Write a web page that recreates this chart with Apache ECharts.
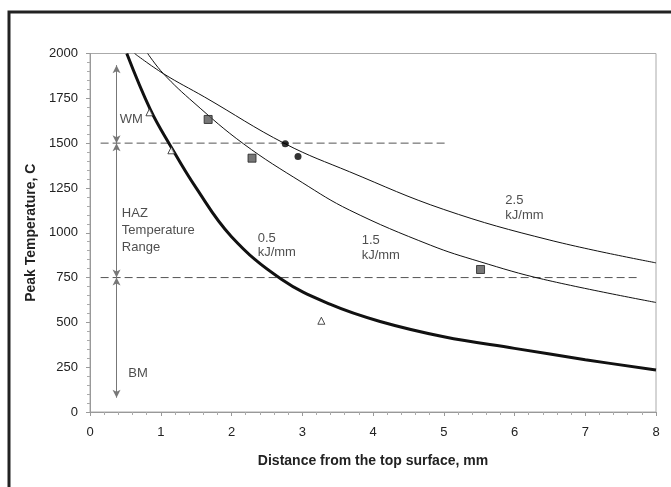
<!DOCTYPE html>
<html>
<head>
<meta charset="utf-8">
<script src="https://cdn.jsdelivr.net/npm/echarts@6/dist/echarts.min.js"></script>
<style>
html, body { margin: 0; padding: 0; background: #fff; }
#main { width: 671px; height: 487px; }
</style>
</head>
<body>
<div id="main"></div>
<script>
// curves: [distance mm, peak temperature C]
var curve05 = [[0.52,2000],[0.85,1690],[1.13,1490],[1.5,1250],[2.0,978],[2.7,742],[3.4,600],[4.1,505],[5.0,420],[6.0,355],[7.0,292],[8.0,234]];
var curve15 = [[0.815,2000],[1.036,1888],[1.47,1725],[2.17,1496],[3.0,1280],[3.67,1126],[4.81,931],[5.5,840],[6.41,740],[8.0,611]];
var curve25 = [[0.63,2000],[1.036,1888],[1.62,1757],[2.76,1496],[3.67,1340],[5.0,1130],[6.5,959],[8.0,832]];

// measured points
var squarePts = [[1.67,1632],[2.29,1416],[5.52,795]];
var circlePts = [[2.76,1496],[2.94,1425]];
var trianglePts = [[0.84,1672],[1.15,1460],[3.27,509]];

// dashed limits: [x start, x end, temperature]
var limitLines = [[0.15,5.02,1500],[0.15,7.75,750]];

// range arrows at x = 0.375: [from, to]
var arrowX = 0.375;
var arrowRanges = [[1500,1935],[750,1500],[80,750]];

// annotations (anchored at the top-left of the text)
var notes = [
    {text: 'WM', x: 0.42, y: 1678, lh: 16},
    {text: 'HAZ\nTemperature\nRange', x: 0.45, y: 1154, lh: 17},
    {text: 'BM', x: 0.54, y: 262, lh: 16},
    {text: '0.5\nkJ/mm', x: 2.37, y: 1009, lh: 14},
    {text: '1.5\nkJ/mm', x: 3.84, y: 998, lh: 15},
    {text: '2.5\nkJ/mm', x: 5.87, y: 1221, lh: 15}
];

var xTicks = [0,1,2,3,4,5,6,7,8];
var yTicks = [0,250,500,750,1000,1250,1500,1750,2000];

var myChart = echarts.init(document.getElementById('main'));
var font = 'Liberation Sans, Arial, sans-serif';

var series = [];
[[curve05, 3], [curve15, 1], [curve25, 1]].forEach(function (c) {
    series.push({
        type: 'line',
        data: c[0],
        smooth: 0.4,
        showSymbol: false,
        silent: true,
        lineStyle: {color: '#111', width: c[1]},
        z: 3
    });
});
limitLines.forEach(function (l) {
    series.push({
        type: 'line',
        data: [[l[0], l[2]], [l[1], l[2]]],
        showSymbol: false,
        silent: true,
        lineStyle: {color: '#555', width: 1, type: [8, 4]},
        z: 2
    });
});
series.push({
    type: 'line',
    data: [],
    silent: true,
    markLine: {
        silent: true,
        symbol: ['arrow', 'arrow'],
        symbolSize: [6, 8],
        label: {show: false},
        lineStyle: {color: '#777', width: 1, type: 'solid'},
        data: arrowRanges.map(function (r) {
            return [{coord: [arrowX, r[0]]}, {coord: [arrowX, r[1]]}];
        })
    }
});
series.push({
    type: 'scatter',
    data: squarePts,
    symbol: 'rect',
    symbolSize: 8,
    itemStyle: {color: '#555', borderColor: '#222', borderWidth: 1},
    z: 5
});
series.push({
    type: 'scatter',
    data: circlePts,
    symbol: 'circle',
    symbolSize: 7,
    itemStyle: {color: '#000'},
    z: 5
});
series.push({
    type: 'scatter',
    data: trianglePts,
    symbol: 'triangle',
    symbolSize: 7,
    itemStyle: {color: '#fff', borderColor: '#222', borderWidth: 1},
    z: 5
});
series.push({
    type: 'scatter',
    data: notes.map(function (n) {
        return {value: [n.x, n.y], name: n.text, label: {lineHeight: n.lh}};
    }),
    symbolSize: 0,
    silent: true,
    label: {
        show: true,
        position: [0, 0],
        align: 'left',
        verticalAlign: 'top',
        formatter: function (p) { return p.name; },
        fontFamily: font,
        fontSize: 13,
        color: '#222'
    },
    z: 6
});

var option = {
    animation: false,
    backgroundColor: '#fff',
    grid: {left: 90, right: 15, top: 53.5, bottom: 75, show: true, borderColor: '#aaa', borderWidth: 1},
    graphic: [{
        type: 'rect',
        shape: {x: 9, y: 12, width: 720, height: 520},
        style: {fill: null, stroke: '#222', lineWidth: 3},
        silent: true
    }],
    xAxis: {
        type: 'value',
        min: xTicks[0],
        max: xTicks[xTicks.length - 1],
        interval: 1,
        name: 'Distance from the top surface, mm',
        nameLocation: 'middle',
        nameGap: 42,
        nameTextStyle: {fontFamily: font, fontSize: 14, fontWeight: 'bold', color: '#222'},
        axisLine: {show: true, onZero: false, lineStyle: {color: '#999'}},
        axisTick: {show: true, length: 4, lineStyle: {color: '#999'}},
        minorTick: {show: true, splitNumber: 5, length: 3, lineStyle: {color: '#aaa'}},
        axisLabel: {margin: 14, fontFamily: font, fontSize: 13, color: '#222'},
        splitLine: {show: false}
    },
    yAxis: {
        type: 'value',
        min: yTicks[0],
        max: yTicks[yTicks.length - 1],
        interval: 250,
        name: 'Peak Temperature, C',
        nameLocation: 'middle',
        nameGap: 52,
        nameTextStyle: {fontFamily: font, fontSize: 14, fontWeight: 'bold', color: '#222'},
        axisLine: {show: true, lineStyle: {color: '#999'}},
        axisTick: {show: true, length: 4, lineStyle: {color: '#999'}},
        minorTick: {show: true, splitNumber: 5, length: 3, lineStyle: {color: '#aaa'}},
        axisLabel: {margin: 12, fontFamily: font, fontSize: 13, color: '#222',
            formatter: function (v) { return String(v); }},
        splitLine: {show: false}
    },
    series: series
};
myChart.setOption(option);
</script>
</body>
</html>
